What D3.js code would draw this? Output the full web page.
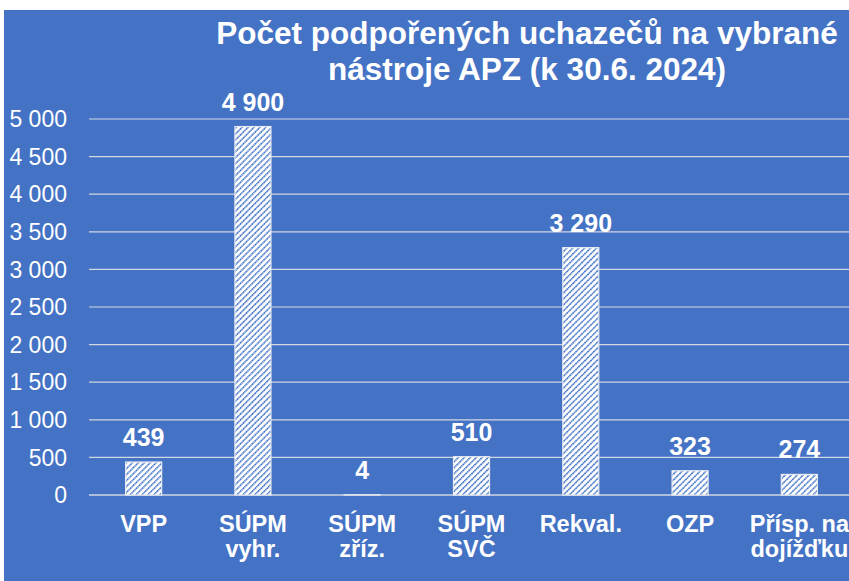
<!DOCTYPE html>
<html>
<head>
<meta charset="utf-8">
<script src="https://cdn.jsdelivr.net/npm/d3@7"></script>
<style>
  body { margin: 0; background: #fff; }
  svg { display: block; }
  text { font-family: "Liberation Sans", Arial, sans-serif; fill: #fff; }
</style>
</head>
<body>
<svg id="chart" width="849" height="581"></svg>
<script>
// chart data
const categories = [["VPP"], ["SÚPM", "vyhr."], ["SÚPM", "zříz."], ["SÚPM", "SVČ"], ["Rekval."], ["OZP"], ["Přísp. na", "dojížďku"]];
const values = [439, 4900, 4, 510, 3290, 323, 274];
const yTicks = [0, 500, 1000, 1500, 2000, 2500, 3000, 3500, 4000, 4500, 5000];
const titleLines = ["Počet podpořených uchazečů na vybrané", "nástroje APZ (k 30.6. 2024)"];

const width = 849, height = 581;
const blue = "#4472C4";
const svg = d3.select("#chart");

// spaced number format "4 900"
const fmt = (v) => d3.format(",")(v).replace(/,/g, " ");

svg.append("rect")
  .attr("x", 4).attr("y", 10)
  .attr("width", width - 4).attr("height", height - 10)
  .attr("fill", blue);

// hatch pattern for bars
const defs = svg.append("defs");
const pat = defs.append("pattern")
  .attr("id", "hatch")
  .attr("patternUnits", "userSpaceOnUse")
  .attr("width", 4.2).attr("height", 4.2)
  .attr("patternTransform", "rotate(45)");
pat.append("rect").attr("width", 4.2).attr("height", 4.2).attr("fill", "#fff");
pat.append("line")
  .attr("x1", 0.8).attr("y1", 0).attr("x2", 0.8).attr("y2", 4.2)
  .attr("stroke", "#4a78c8").attr("stroke-width", 1.6)
  .attr("stroke-dasharray", "1.6 0.5");

const x = d3.scaleBand()
  .domain(categories.map((d) => d.join(" ")))
  .range([89, 854])
  .paddingInner(0.67)
  .paddingOuter(0.335);

const y = d3.scaleLinear().domain([0, 5000]).range([495, 119]);

// gridlines
svg.append("g")
  .selectAll("line")
  .data(yTicks)
  .enter().append("line")
  .attr("x1", 89).attr("x2", width)
  .attr("y1", (d) => y(d)).attr("y2", (d) => y(d))
  .attr("stroke", "#d0d6e2")
  .attr("stroke-width", (d) => d === 0 ? 1.5 : 1.2);

// y axis labels
svg.append("g")
  .selectAll("text")
  .data(yTicks)
  .enter().append("text")
  .attr("x", 67)
  .attr("y", (d) => y(d))
  .attr("dy", "0.36em")
  .attr("text-anchor", "end")
  .style("font-size", "23px")
  .text((d) => fmt(d));

// bars
svg.append("g")
  .selectAll("rect")
  .data(values)
  .enter().append("rect")
  .attr("x", (d, i) => x(categories[i].join(" ")))
  .attr("y", (d) => y(d))
  .attr("width", x.bandwidth())
  .attr("height", (d) => y(0) - y(d))
  .attr("fill", "url(#hatch)")
  .attr("stroke", "#e4e8f0")
  .attr("stroke-width", 1.2);

// value labels
svg.append("g")
  .selectAll("text")
  .data(values)
  .enter().append("text")
  .attr("x", (d, i) => x(categories[i].join(" ")) + x.bandwidth() / 2)
  .attr("y", (d) => y(d) - 16)
  .attr("text-anchor", "middle")
  .style("font-size", "25px")
  .style("font-weight", "bold")
  .text((d) => fmt(d));

// category labels
const cat = svg.append("g")
  .selectAll("text")
  .data(categories)
  .enter().append("text")
  .attr("x", (d) => x(d.join(" ")) + x.bandwidth() / 2)
  .attr("y", 532)
  .attr("text-anchor", "middle")
  .style("font-size", "23.5px")
  .style("font-weight", "bold");
cat.selectAll("tspan")
  .data((d, i) => d.map((t) => ({t: t, cx: x(d.join(" ")) + x.bandwidth() / 2})))
  .enter().append("tspan")
  .attr("x", (d) => d.cx)
  .attr("dy", (d, i) => i === 0 ? 0 : 25)
  .text((d) => d.t);

// title
svg.append("g")
  .selectAll("text")
  .data(titleLines)
  .enter().append("text")
  .attr("x", 527)
  .attr("y", (d, i) => 44 + i * 36)
  .attr("text-anchor", "middle")
  .style("font-size", "31.5px")
  .style("font-weight", "bold")
  .text((d) => d);
</script>
</body>
</html>
